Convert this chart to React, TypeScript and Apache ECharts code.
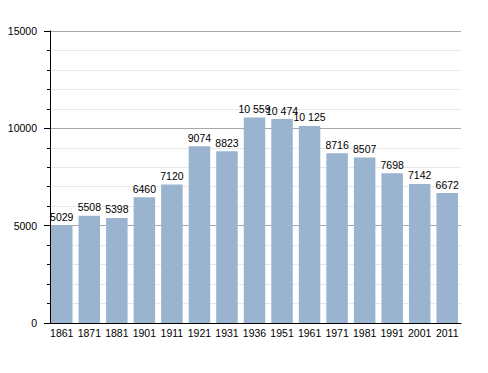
import React, { useEffect, useRef } from "react";
import * as echarts from "echarts";

const years = ["1861", "1871", "1881", "1901", "1911", "1921", "1931", "1936", "1951", "1961", "1971", "1981", "1991", "2001", "2011"];
const population = [5029, 5508, 5398, 6460, 7120, 9074, 8823, 10559, 10474, 10125, 8716, 8507, 7698, 7142, 6672];

function fmt(v: number): string {
  if (v >= 10000) {
    const s = String(v);
    return s.slice(0, s.length - 3) + " " + s.slice(s.length - 3);
  }
  return String(v);
}

const FONT = "Liberation Sans, Arial, sans-serif";

export default function App() {
  const ref = useRef<HTMLDivElement>(null);
  useEffect(() => {
    if (!ref.current) return;
    const chart = echarts.init(ref.current, undefined, { renderer: "svg" });
    chart.setOption({
      animation: false,
      backgroundColor: "#ffffff",
      textStyle: { fontFamily: FONT },
      grid: { left: 48, right: 27, top: 31, bottom: 50, containLabel: false },
      xAxis: {
        type: "category",
        data: years,
        axisLine: { show: true, lineStyle: { color: "#000", width: 1 } },
        axisTick: { show: false },
        axisLabel: { color: "#000", fontSize: 10.5, margin: 4, interval: 0, fontFamily: FONT },
      },
      yAxis: {
        type: "value",
        min: 0,
        max: 15000,
        interval: 5000,
        offset: -2,
        axisLine: { show: true, lineStyle: { color: "#000", width: 1 } },
        axisTick: { show: true, length: 6, lineStyle: { color: "#000" } },
        minorTick: { show: true, splitNumber: 5, length: 3, lineStyle: { color: "#000" } },
        axisLabel: { color: "#000", fontSize: 10.5, margin: 13, fontFamily: FONT, formatter: (v: number) => String(v) },
        splitLine: { show: true, lineStyle: { color: "#a8a8a8", width: 1 } },
        minorSplitLine: { show: true, lineStyle: { color: "#e8e8e8", width: 1 } },
      },
      series: [
        {
          type: "bar",
          data: population,
          barCategoryGap: "22%",
          itemStyle: { color: "#9ab3cf" },
          label: {
            show: true,
            position: "top",
            distance: 3,
            color: "#000",
            fontSize: 10.5,
            fontFamily: FONT,
            formatter: (p: any) => fmt(p.value),
          },
        },
      ],
    });
    return () => chart.dispose();
  }, []);
  return <div ref={ref} style={{ width: 488, height: 373, position: "absolute", left: 0, top: 0 }} />;
}
